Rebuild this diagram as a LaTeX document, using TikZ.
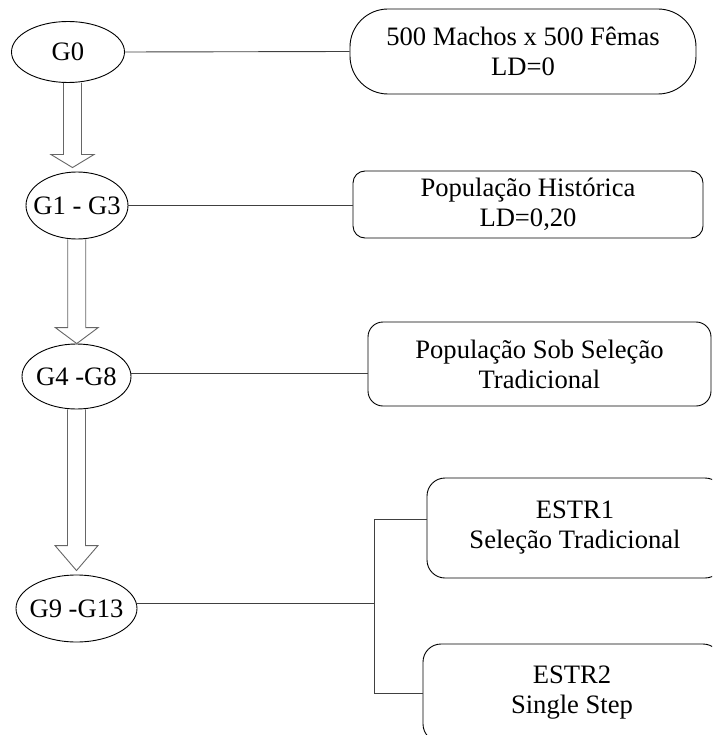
\documentclass[tikz,border=0pt]{standalone}
\usepackage{fontspec}
\setmainfont{Liberation Serif}
\usetikzlibrary{shapes.geometric,calc}
\tikzset{
  gen/.style={ellipse, draw=black, line width=0.9pt, inner sep=0pt},
  infobox/.style={rectangle, draw=black, line width=0.9pt, inner sep=0pt, align=center},
  conn/.style={draw=black!75, line width=0.9pt},
  blockarr/.style={draw=black!60, line width=0.9pt, line join=miter},
}
% #1 from node, #2 to node, #3 head length, #4 gap between tip and target
\newcommand\blockarrow[4]{%
  \draw[blockarr] let \p1=($(#1.south)!0.5!(#2.north)$), \p2=(#1.south), \p3=(#2.north) in
    (\x1-9pt,\y2) -- (\x1-9pt,\y3+#4+#3) -- (\x1-21.5pt,\y3+#4+#3) -- (\x1,\y3+#4)
    -- (\x1+21.5pt,\y3+#4+#3) -- (\x1+9pt,\y3+#4+#3) -- (\x1+9pt,\y2);}
\begin{document}
\begin{tikzpicture}[x=1pt,y=-1pt, font=\fontsize{26.6}{30}\selectfont]
\useasboundingbox (0,0) rectangle (712,735);
\clip (0,0) rectangle (712,735);

% generation ellipses
\node[gen, minimum width=113pt, minimum height=61pt] (g0) at (68,52) {\makebox[0pt]{G0}};
\node[gen, minimum width=102pt, minimum height=67pt] (g1) at (77,205.5) {\makebox[0pt]{G1 - G3}};
\node[gen, minimum width=109pt, minimum height=65pt] (g4) at (76.5,376.5) {\makebox[0pt]{G4 -G8}};
\node[gen, minimum width=121pt, minimum height=67pt] (g9) at (76.5,608.5) {\makebox[0pt]{G9 -G13}};

% description boxes
\node[infobox, rounded corners=38pt, minimum width=346pt, minimum height=85pt] (b1) at (523,51.5)
  {500 Machos x 500 Fêmas\\LD=0};
\node[infobox, rounded corners=12pt, minimum width=350pt, minimum height=67pt] (b2) at (528,204.5)
  {População Histórica\\LD=0,20};
\node[infobox, rounded corners=15pt, minimum width=343pt, minimum height=84pt] (b3) at (539.5,364)
  {População Sob Seleção\\Tradicional};
\node[infobox, rounded corners=18pt, minimum width=296pt, minimum height=100pt] (e1) at (575,528)
  {ESTR1\\Seleção Tradicional};
\node[infobox, rounded corners=18pt, minimum width=298pt, minimum height=98pt] (e2) at (572,693)
  {ESTR2\\Single Step};

% block arrows
\blockarrow{g0}{g1}{13pt}{4pt}
\blockarrow{g1}{g4}{16pt}{0pt}
\blockarrow{g4}{g9}{25pt}{4pt}

% connectors
\draw[conn] (g0.east) -- (b1.west);
\draw[conn] (g1.east) -- (g1.east -| b2.west);
\draw[conn] ([yshift=3.5pt]g4.east) coordinate (l4) -- (l4 -| b3.west);
\coordinate (j) at (374,603);
\draw[conn] ([yshift=5.5pt]g9.east) coordinate (l9) -- (l9 -| j);
\draw[conn] ([yshift=9pt]e1.west) coordinate (l1) -- (l1 -| j) -- (e2.west -| j) -- (e2.west);
\end{tikzpicture}
\end{document}
